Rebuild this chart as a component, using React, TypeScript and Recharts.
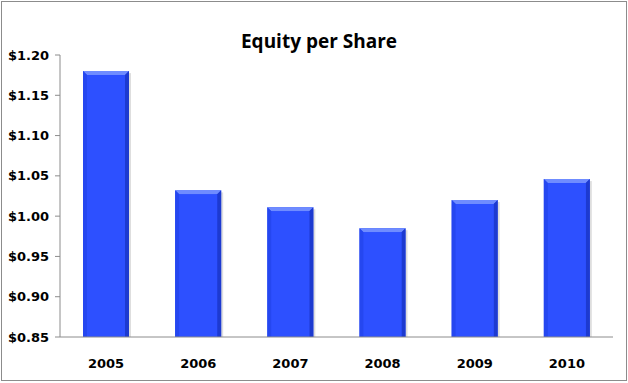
import React from 'react';
import { BarChart, Bar, XAxis, YAxis } from 'recharts';

const years = ['2005', '2006', '2007', '2008', '2009', '2010'];
const equity = [1.18, 1.032, 1.011, 0.985, 1.02, 1.046];
const yTicks = [0.85, 0.9, 0.95, 1.0, 1.05, 1.1, 1.15, 1.2];

const data = years.map((year, i) => ({ year, equity: equity[i] }));

// bevelled bar like the Excel original
const BevelBar = (props: any) => {
  const { x, y, width, height } = props;
  if (!height || height <= 0) return null;
  const b = 4;
  return (
    <g>
      <rect x={x + 2} y={y + 2} width={width} height={height - 2} fill="#c8c8c8" opacity={0.6} />
      <rect x={x} y={y} width={width} height={height} fill="#2a4cf7" />
      <polygon points={`${x},${y} ${x + width},${y} ${x + width - b},${y + b} ${x + b},${y + b}`} fill="#6f8cff" />
      <polygon points={`${x},${y} ${x + b},${y + b} ${x + b},${y + height} ${x},${y + height}`} fill="#2547f0" />
      <polygon points={`${x + width},${y} ${x + width - b},${y + b} ${x + width - b},${y + height} ${x + width},${y + height}`} fill="#1d3ad0" />
      <rect x={x + b} y={y + b} width={width - 2 * b} height={height - b} fill="#2d50ff" />
    </g>
  );
};

const tickFont = { fontFamily: 'Verdana, "DejaVu Sans", sans-serif', fontWeight: 700, fontSize: 13, fill: '#000' };

export default function App() {
  return (
    <div style={{ position: 'absolute', left: 0, top: 0, width: 628, height: 383, background: '#fff' }}>
      <div
        style={{
          position: 'absolute',
          left: 1,
          top: 1,
          width: 624,
          height: 378,
          border: '1px solid #8c8c8c',
        }}
      />
      <div
        style={{
          position: 'absolute',
          left: 0,
          width: 638,
          top: 29,
          textAlign: 'center',
          fontFamily: '"Open Sans", "Noto Sans", sans-serif',
          fontWeight: 700,
          fontSize: 19,
          lineHeight: '24px',
          color: '#000',
        }}
      >
        Equity per Share
      </div>
      <div style={{ position: 'absolute', left: 0, top: 0 }}>
        <BarChart width={628} height={383} data={data} margin={{ top: 55, right: 15, left: 0, bottom: 16 }}>
          <XAxis
            dataKey="year"
            tickLine={false}
            axisLine={{ stroke: '#8c8c8c' }}
            tick={tickFont}
            height={30}
            tickMargin={16}
          />
          <YAxis
            domain={[0.85, 1.2]}
            ticks={yTicks}
            interval={0}
            width={60}
            axisLine={{ stroke: '#8c8c8c' }}
            tickLine={{ stroke: '#8c8c8c' }}
            tickSize={5}
            tickMargin={6}
            tick={tickFont}
            tickFormatter={(v: number) => `$${v.toFixed(2)}`}
          />
          <Bar dataKey="equity" barSize={46} isAnimationActive={false} shape={BevelBar} />
        </BarChart>
      </div>
    </div>
  );
}
